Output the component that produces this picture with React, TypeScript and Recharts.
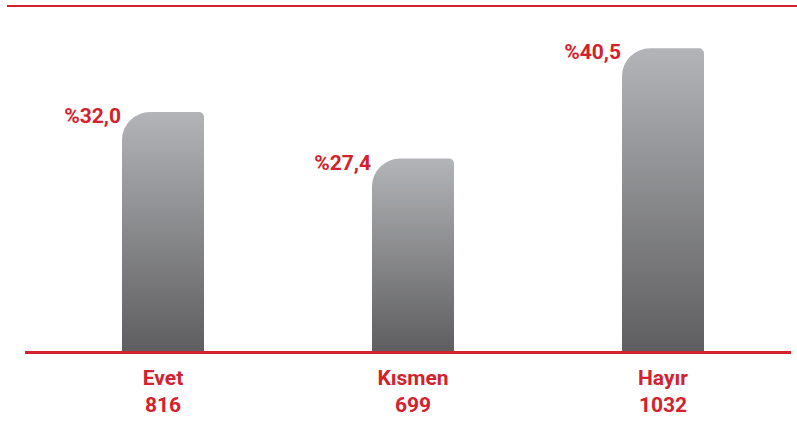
import { BarChart, Bar, XAxis, YAxis, LabelList } from 'recharts'

const categories = ['Evet', 'Kısmen', 'Hayır']
const counts = ['816', '699', '1032']
const percentLabels = ['%32,0', '%27,4', '%40,5']
// bar heights as drawn in the picture (percent scale)
const barLevels = [32.0, 25.8, 40.5]

const RED = '#d3222d'
const FONT = 'Roboto, "Open Sans", sans-serif'

const data = categories.map((name, i) => ({
  name,
  count: counts[i],
  label: percentLabels[i],
  value: barLevels[i],
}))

function CategoryTick(props: any) {
  const { x, y, payload, index } = props
  return (
    <g>
      <text x={x} y={y + 25} textAnchor="middle" fill={RED} fontSize={21} fontWeight={700} fontFamily={FONT}>
        {payload.value}
      </text>
      <text x={x} y={y + 52} textAnchor="middle" fill={RED} fontSize={21} fontWeight={700} fontFamily={FONT}>
        {counts[index]}
      </text>
    </g>
  )
}

function PercentLabel(props: any) {
  const { x, y, value } = props
  return (
    <text x={x - 1} y={y + 11} textAnchor="end" fill={RED} fontSize={21} fontWeight={700} fontFamily={FONT}>
      {value}
    </text>
  )
}

export default function App() {
  return (
    <div style={{ position: 'fixed', left: 0, top: 0, width: 797, height: 428, background: '#fff' }}>
      <BarChart
        width={797}
        height={428}
        data={data}
        margin={{ top: 7, right: 9, left: 38, bottom: 0 }}
        barCategoryGap={0}
      >
        <defs>
          <linearGradient id="barGrad" x1="0" y1="0" x2="0" y2="1">
            <stop offset="0%" stopColor="#b3b4b7" />
            <stop offset="100%" stopColor="#5e5e60" />
          </linearGradient>
        </defs>
        <XAxis dataKey="name" axisLine={false} tickLine={false} height={76} interval={0} tick={<CategoryTick />} />
        <YAxis hide domain={[0, 46]} />
        <Bar dataKey="value" fill="url(#barGrad)" barSize={82} radius={[28, 5, 0, 0]} isAnimationActive={false}>
          <LabelList dataKey="label" content={<PercentLabel />} />
        </Bar>
      </BarChart>
      <div style={{ position: 'absolute', left: 7, top: 5, width: 790, height: 2, background: RED }} />
      <div style={{ position: 'absolute', left: 25, top: 351, width: 766, height: 3, background: RED }} />
    </div>
  )
}
